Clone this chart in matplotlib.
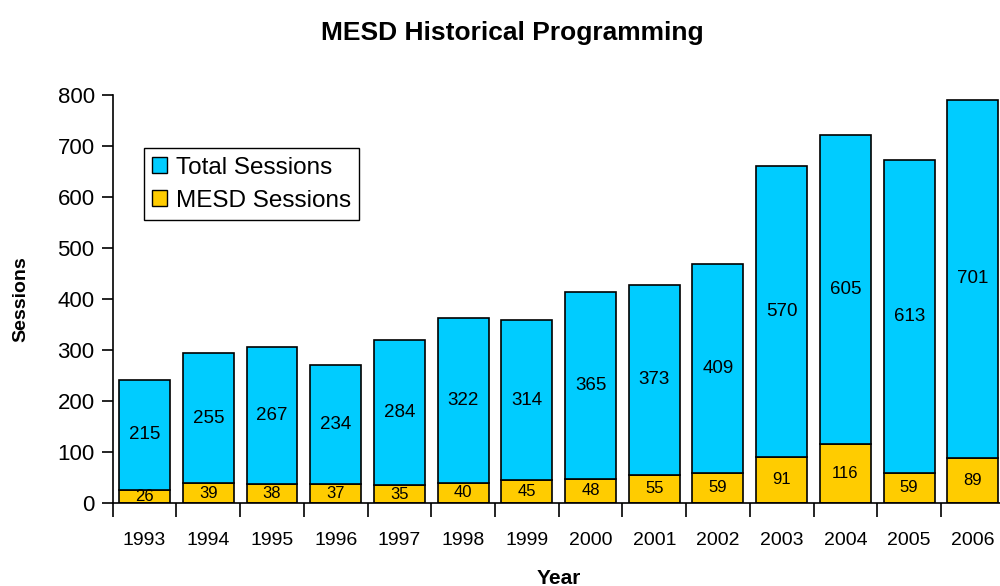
import numpy as np
import matplotlib.pyplot as plt
from matplotlib.patches import Patch

plt.rcParams['font.family'] = ['Liberation Sans', 'DejaVu Sans']

years = ["1993", "1994", "1995", "1996", "1997", "1998", "1999",
         "2000", "2001", "2002", "2003", "2004", "2005", "2006"]
mesd = [26, 39, 38, 37, 35, 40, 45, 48, 55, 59, 91, 116, 59, 89]
other = [215, 255, 267, 234, 284, 322, 314, 365, 373, 409, 570, 605, 613, 701]

CYAN = "#00CCFF"
YELLOW = "#FFCC00"

fig = plt.figure(figsize=(10, 5.86), dpi=100)
ax = fig.add_axes([0.1127, 0.1416, 0.892, 0.6962])

x = np.arange(len(years))
ax.bar(x, mesd, width=0.8, color=YELLOW, edgecolor="black", linewidth=1.2)
ax.bar(x, other, bottom=mesd, width=0.8, color=CYAN, edgecolor="black", linewidth=1.2)

for xi, m, o in zip(x, mesd, other):
    ax.text(xi, m / 2, str(m), ha="center", va="center", fontsize=12)
    ax.text(xi, m + o / 2, str(o), ha="center", va="center", fontsize=13.5)

ax.set_xlim(-0.5, len(years) - 0.5)
ax.set_ylim(0, 800)
ax.set_yticks(range(0, 801, 100))
ax.tick_params(axis="y", labelsize=16, length=8, width=1.2, direction="out", pad=5)

ax.set_xticks(x)
ax.set_xticklabels(years)
ax.set_xticks(np.arange(-0.5, len(years), 1), minor=True)
ax.tick_params(axis="x", which="major", length=0, labelsize=14, pad=21)
ax.tick_params(axis="x", which="minor", length=10, width=1.2, direction="out")

for s in ["top", "right"]:
    ax.spines[s].set_visible(False)
ax.spines["left"].set_linewidth(1.2)
ax.spines["bottom"].set_linewidth(1.2)

ax.set_ylabel("Sessions", fontsize=14, fontweight="bold", labelpad=20)
ax.set_xlabel("Year", fontsize=15, fontweight="bold", labelpad=14)
fig.suptitle("MESD Historical Programming", fontsize=19, fontweight="bold", x=0.512, y=0.965)

handles = [Patch(facecolor=CYAN, edgecolor="black", label="Total Sessions"),
           Patch(facecolor=YELLOW, edgecolor="black", label="MESD Sessions")]
ax.legend(handles=handles, loc="upper left", bbox_to_anchor=(0.035, 0.87),
          fontsize=17.5, frameon=True, fancybox=False, edgecolor="black",
          handlelength=0.6, handleheight=0.6, handletextpad=0.35,
          borderpad=0.35, labelspacing=0.45, framealpha=1,
          borderaxespad=0)

fig.savefig("out.png", dpi=100)
